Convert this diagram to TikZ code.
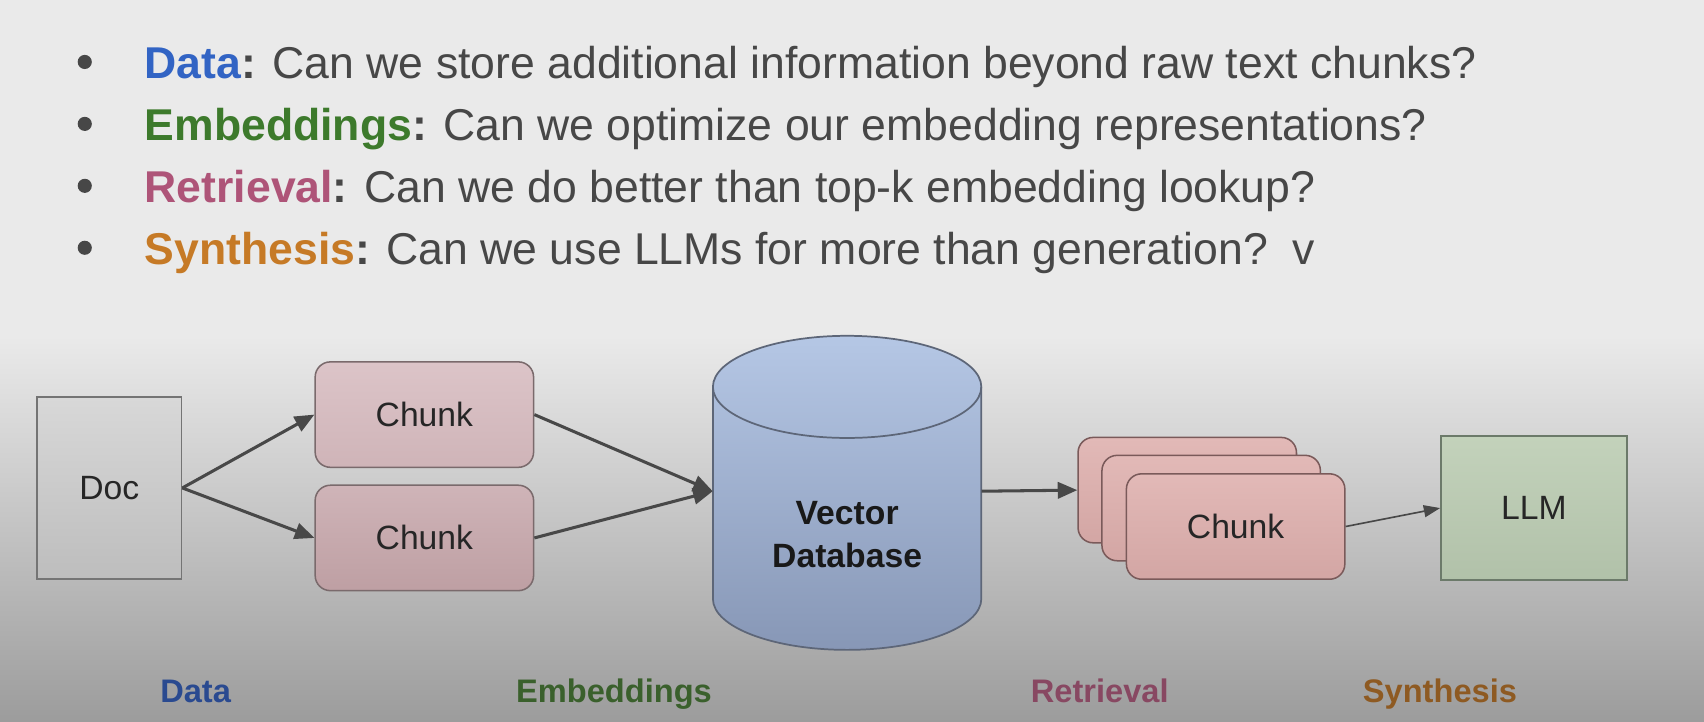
\documentclass[tikz,border=0pt]{standalone}
\usepackage{fontspec}
\setmainfont{Liberation Sans}
\usetikzlibrary{arrows.meta}
\definecolor{bgtop}{HTML}{EAEAEA}
\definecolor{bgbot}{HTML}{9C9C9C}
\definecolor{txt}{HTML}{474747}
\definecolor{kdata}{HTML}{3264C4}
\definecolor{kemb}{HTML}{3D7A2C}
\definecolor{kret}{HTML}{AE5478}
\definecolor{ksyn}{HTML}{C67A26}
\definecolor{ldata}{HTML}{2A4A90}
\definecolor{lemb}{HTML}{3A602C}
\definecolor{lret}{HTML}{884862}
\definecolor{lsyn}{HTML}{8E5A22}
\definecolor{arrc}{HTML}{484848}
\definecolor{doctop}{HTML}{D8D8D8}
\definecolor{docbot}{HTML}{BDBDBD}
\definecolor{docline}{HTML}{747474}
\definecolor{chktop}{HTML}{DCC4C8}
\definecolor{chkmid}{HTML}{CFB4B8}
\definecolor{chkbot}{HTML}{BE9FA3}
\definecolor{chkline}{HTML}{7A6A6C}
\definecolor{stktop}{HTML}{E2B9B7}
\definecolor{stkbot}{HTML}{D3A6A4}
\definecolor{stkline}{HTML}{7A5A5A}
\definecolor{cyltop}{HTML}{B5C7E5}
\definecolor{cylbot}{HTML}{8797B6}
\definecolor{cylline}{HTML}{5D6678}
\definecolor{llmtop}{HTML}{C3D2BB}
\definecolor{llmbot}{HTML}{B1C1A9}
\definecolor{llmline}{HTML}{6C7A6A}
\begin{document}
\begin{tikzpicture}[x=1pt,y=-1pt,
  qline/.style={anchor=base west,inner sep=0pt,text=txt,font=\fontsize{41}{49}\selectfont},
  bulletdot/.style={circle,fill=txt,draw=none,minimum size=13pt,inner sep=0pt},
  boxtext/.style={text=black!85,font=\fontsize{31}{38}\selectfont},
  docbox/.style={boxtext,draw=docline,line width=1.6pt,top color=doctop,bottom color=docbot,
    minimum width=133pt,minimum height=168pt,inner sep=0pt},
  chunkbox/.style={boxtext,draw=chkline,line width=1.4pt,rounded corners=14pt,
    minimum width=201pt,minimum height=97pt,inner sep=0pt},
  stackbox/.style={boxtext,draw=stkline,line width=1.4pt,rounded corners=14pt,top color=stktop,bottom color=stkbot,
    minimum width=201pt,minimum height=97pt,inner sep=0pt},
  llmbox/.style={boxtext,draw=llmline,line width=1.6pt,top color=llmtop,bottom color=llmbot,
    minimum width=171pt,minimum height=133pt,inner sep=0pt},
  stagelabel/.style={anchor=base,font=\fontsize{30}{36}\selectfont\bfseries,inner sep=0pt},
  arr/.style={draw=arrc,line width=2.8pt,-{Triangle[length=18pt,width=15pt]}},
  thinarr/.style={draw=arrc,line width=1.5pt,-{Triangle[length=15pt,width=11pt]}}
]
\useasboundingbox (0,0) rectangle (1568,664);
\fill[bgtop] (0,0) rectangle (1568,310);
\shade[top color=bgtop,bottom color=bgbot] (0,309.5) rectangle (1568,664);

% bullet list
\node[bulletdot] (b1) at (78,57) {};
\node[bulletdot] (b2) at (78,114) {};
\node[bulletdot] (b3) at (78,171) {};
\node[bulletdot] (b4) at (78,228) {};
\node[qline] (q1) at (133,72) {\textbf{\color{kdata}Data}\textbf{:} Can we store additional information beyond raw text chunks?};
\node[qline] (q2) at (133,129) {\textbf{\color{kemb}Embeddings}\textbf{:} Can we optimize our embedding representations?};
\node[qline] (q3) at (133,186) {\textbf{\color{kret}Retrieval}\textbf{:} Can we do better than top-k embedding lookup?};
\node[qline] (q4) at (133,243) {\textbf{\color{ksyn}Synthesis}\textbf{:} Can we use LLMs for more than generation?~~v};

% Doc
\node[docbox] (doc) at (100.5,449) {Doc};

% Chunks
\node[chunkbox,top color=chktop,bottom color=chkmid] (c1) at (390.5,381.5) {Chunk};
\node[chunkbox,top color=chkmid,bottom color=chkbot] (c2) at (390.5,495) {Chunk};

% Cylinder
\shade[top color=cyltop,bottom color=cylbot] (656,356) -- (656,551)
  arc[start angle=180,end angle=0,x radius=123.5,y radius=47] -- (903,356)
  arc[start angle=0,end angle=-180,x radius=123.5,y radius=47] -- cycle;
\draw[cylline,line width=1.6pt] (656,356) -- (656,551)
  arc[start angle=180,end angle=0,x radius=123.5,y radius=47] -- (903,356);
\draw[cylline,line width=1.6pt] (779.5,356) ellipse[x radius=123.5,y radius=47];
\node[minimum width=247pt,minimum height=190pt,inner sep=0pt] (db) at (779.5,452) {};
\node[boxtext,font=\fontsize{31}{39}\selectfont\bfseries,align=center,text=black!90] (dblabel) at (779.5,492) {Vector\\Database};

% Retrieved chunk stack
\node[stackbox] (s1) at (1092.5,451) {};
\node[stackbox] (s2) at (1114.5,467.5) {};
\node[stackbox] (s3) at (1137,484.5) {Chunk};

% LLM
\node[llmbox] (llm) at (1411.5,467.5) {LLM};

% connectors
\draw[arr] (doc.east) -- (c1.west);
\draw[arr] (doc.east) -- (c2.west);
\draw[arr] (c1.east) -- (db.west);
\draw[arr] (c2.east) -- (db.west);
\draw[arr] (db.east) -- (s1.west);
\draw[thinarr] (s3.east) -- (llm.west);

% stage labels
\node[stagelabel,text=ldata] (ld) at (180,646) {Data};
\node[stagelabel,text=lemb] (le) at (565,646) {Embeddings};
\node[stagelabel,text=lret] (lr) at (1012,646) {Retrieval};
\node[stagelabel,text=lsyn] (ls) at (1325,646) {Synthesis};
\end{tikzpicture}
\end{document}
